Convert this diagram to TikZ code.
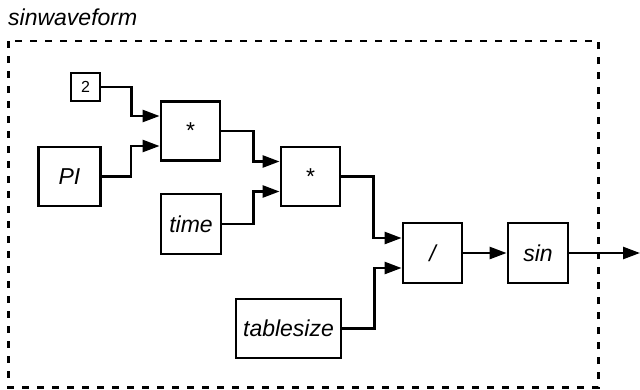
\documentclass[tikz,border=0pt]{standalone}
\usepackage{fontspec}
\setmainfont{Liberation Sans}
\usetikzlibrary{arrows.meta,calc}

\tikzset{
  blk/.style={draw, line width=2.8pt, inner sep=0pt, anchor=center,
    font=\fontsize{23}{27}\selectfont\itshape},
  blkup/.style={blk, font=\fontsize{23}{27}\selectfont},
  small/.style={blk, font=\fontsize{16}{19}\selectfont},
  wire/.style={line width=2.5pt, -{Triangle[length=17pt,width=12pt]}},
  frame/.style={line width=2.6pt, dash pattern=on 7pt off 8pt},
  title/.style={inner sep=0pt, anchor=base west,
    font=\fontsize{23}{27}\selectfont\itshape}
}

\begin{document}
\begin{tikzpicture}[x=1pt,y=-1pt]
  \useasboundingbox (0,0) rectangle (640,389);

  % enclosing subsystem frame and its name
  \draw[frame] (8.5,41) rectangle (598.5,387.5);
  \node[title] (ttl) at (8,25) {sinwaveform};

  % blocks
  \node[small, minimum width=29pt, minimum height=28pt] (two) at (85.5,87) {2};
  \node[blk, minimum width=62pt, minimum height=59pt] (pi) at (69.5,176.5) {PI};
  \node[blkup, minimum width=59pt, minimum height=59pt] (m1) at (190.5,131) {*};
  \node[blk, minimum width=60pt, minimum height=60pt] (time) at (191,224) {time};
  \node[blkup, minimum width=59pt, minimum height=59pt] (m2) at (310.5,176.5) {*};
  \node[blk, minimum width=105pt, minimum height=59pt] (tsz) at (288.5,328.5) {tablesize};
  \node[blk, minimum width=59pt, minimum height=60pt] (div) at (432.5,253) {/};
  \node[blk, minimum width=60pt, minimum height=60pt] (sin) at (538,253) {sin};

  % input ports
  \coordinate (m1a) at ($(m1.west)+(0,-15)$);
  \coordinate (m1b) at ($(m1.west)+(0,15)$);
  \coordinate (m2a) at ($(m2.west)+(0,-15)$);
  \coordinate (m2b) at ($(m2.west)+(0,15)$);
  \coordinate (dva) at ($(div.west)+(0,-15)$);
  \coordinate (dvb) at ($(div.west)+(0,15)$);
  \coordinate (out) at (640,253);

  % connections
  \draw[wire] (two.east) -- ++(30,0) |- (m1a);
  \draw[wire] (pi.east) -- ++(29,0) |- (m1b);
  \draw[wire] (m1.east) -- ++(32,0) |- (m2a);
  \draw[wire] (time.east) -- ++(31,0) |- (m2b);
  \draw[wire] (m2.east) -- ++(32,0) |- (dva);
  \draw[wire] (tsz.east) -- ++(32,0) |- (dvb);
  \draw[wire] (div.east) -- (sin.west);
  \draw[wire] (sin.east) -- (out);
\end{tikzpicture}
\end{document}
